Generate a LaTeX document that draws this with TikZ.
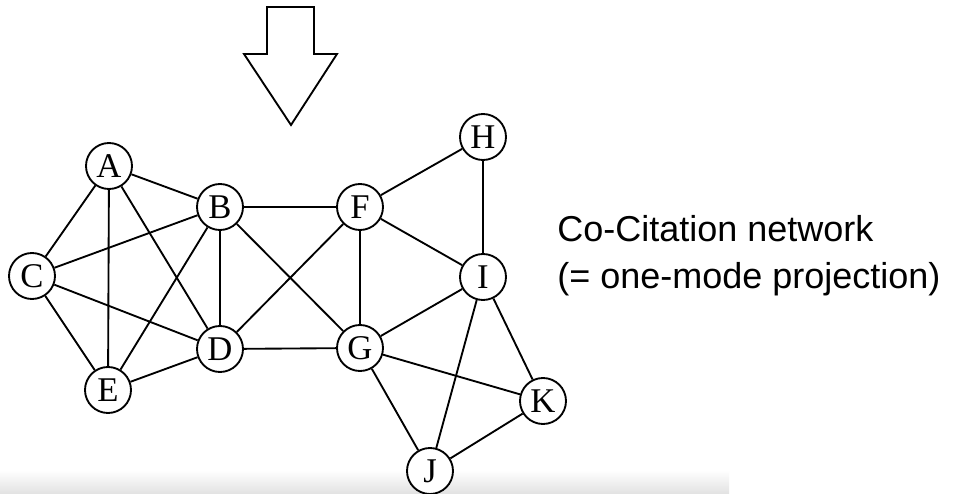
\documentclass[tikz,border=0pt]{standalone}
\usepackage{fontspec}
\setmainfont{Liberation Serif}
\newfontfamily\notesans{Liberation Sans}

\begin{document}
\begin{tikzpicture}[
    x=0.75pt, y=-0.75pt,
    vertex/.style={circle, draw, fill=white, line width=1.4pt,
      minimum size=34.5pt, inner sep=0pt, font=\fontsize{26}{26}\selectfont},
    link/.style={line width=1.4pt}]

      \fill[white] (0,0) rectangle (960,493);
      \useasboundingbox (0,0) rectangle (960,493);
      \shade[top color=white, bottom color=black!11] (0,470) rectangle (729,493);

      % arrow
      \draw[link, line join=miter] (267,7) -- (314,7) -- (314,54) -- (337,54)
        -- (291,125) -- (244,54) -- (267,54) -- cycle;

      \node[vertex] (A) at (109,166) {A};
      \node[vertex] (B) at (220,207) {B};
      \node[vertex] (C) at (32,276)  {C};
      \node[vertex] (D) at (220,349) {D};
      \node[vertex] (E) at (108,390) {E};
      \node[vertex] (F) at (360,207) {F};
      \node[vertex] (G) at (360,348) {G};
      \node[vertex] (H) at (483,137) {H};
      \node[vertex] (I) at (483,277) {I};
      \node[vertex] (J) at (430,471) {J};
      \node[vertex] (K) at (543,401) {K};

      % A
      \foreach \p in {B, C, D, E}
        \draw[link] (A) -- (\p);
      % B
      \foreach \p in {C, D, E, F, G}
        \draw[link] (B) -- (\p);
      % C, D, E
      \draw[link] (C) -- (D);
      \draw[link] (C) -- (E);
      \draw[link] (E) -- (D);
      \draw[link] (D) -- (G);
      \draw[link] (D) -- (F);
      % F
      \foreach \p in {G, H, I}
        \draw[link] (F) -- (\p);
      \draw[link] (H) -- (I);
      % I
      \foreach \p in {G, J, K}
        \draw[link] (I) -- (\p);
      % G, J, K
      \draw[link] (G) -- (K);
      \draw[link] (G) -- (J);
      \draw[link] (J) -- (K);

      \node[anchor=west, align=left, inner sep=0pt,
        font=\notesans\fontsize{27}{35}\selectfont] (caption) at (557,256)
        {Co-Citation network\\(= one-mode projection)};

    \end{tikzpicture}
\end{document}
